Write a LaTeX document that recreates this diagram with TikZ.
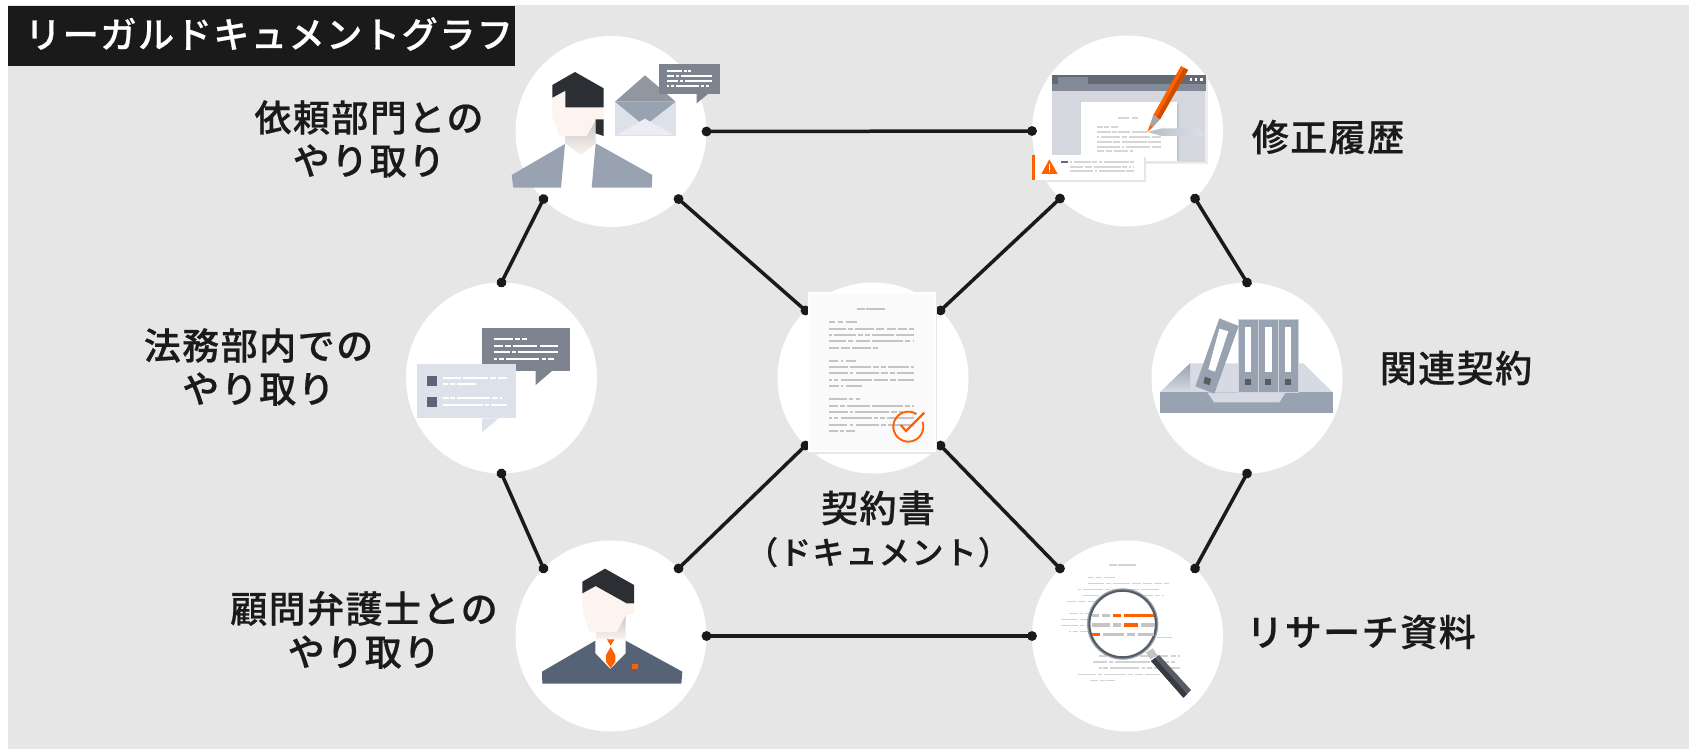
\documentclass[tikz,border=0pt]{standalone}
\usepackage{fontspec}
\setmainfont{Noto Sans CJK JP}
\newfontfamily\mediumfont[LetterSpace=4, FakeBold=0.5]{Noto Sans CJK JP Medium}
\usetikzlibrary{arrows.meta}

\definecolor{bggray}{HTML}{E6E6E6}
\definecolor{inkblack}{HTML}{1A1A1A}
\definecolor{slate}{HTML}{98A2B1}
\definecolor{slatedark}{HTML}{7D8490}
\definecolor{slatelight}{HTML}{DDE1E9}
\definecolor{charcoal}{HTML}{2B2E33}
\definecolor{skin}{HTML}{FDF3EF}
\definecolor{accent}{HTML}{FF6000}
\definecolor{rowgray}{HTML}{C4C4C4}
\definecolor{suitblue}{HTML}{566376}
\definecolor{boxblue}{HTML}{5F6378}

\newcommand{\textrows}[2][]{%
	\foreach \y/\segs in {#2} {
		\foreach \a/\b in \segs {
			\draw[#1] (\a,\y) -- (\b,\y);
		}
	}
}

\tikzset{
	hub/.style={circle, fill=white, minimum size=95.5pt, inner sep=0, outer sep=0},
	link/.style={inkblack, line width=1.75pt, {Circle[length=4.8pt]}-{Circle[length=4.8pt]}, shorten <=-2.4pt, shorten >=-2.4pt},
	caption/.style={font=\mediumfont\fontsize{18.5}{21.6}\selectfont, text=inkblack, align=center, inner sep=0},
	whiterow/.style={white, line width=1.05pt},
	docrow/.style={rowgray, line width=0.9pt},
	faintrow/.style={rowgray!75, line width=0.8pt},
	lensrow/.style={rowgray, line width=1.7pt},
	hotrow/.style={accent, line width=1.7pt}
}

\begin{document}
\begin{tikzpicture}[x=0.5pt, y=-0.5pt]
	\useasboundingbox (0,0) rectangle (1689,749);
	\fill[bggray] (8,5) rectangle (1689,749);

	\fill[inkblack] (8,6) rectangle (515,66);
	\node[font=\mediumfont\fontsize{18.1}{22}\selectfont, text=white, inner sep=0] (title) at (269,34) {リーガルドキュメントグラフ};

	\node[hub] (request) at (611,131.5) {};
	\node[hub] (history) at (1127.5,131) {};
	\node[hub] (internal) at (501.5,378) {};
	\node[hub] (contract) at (873,378) {};
	\node[hub] (related) at (1247,378) {};
	\node[hub] (counsel) at (611,636) {};
	\node[hub] (research) at (1127.5,636) {};

	\draw[link] (request.0) -- (history.180);
	\draw[link] (request.225) -- (internal.90);
	\draw[link] (request.315) -- (contract.135);
	\draw[link] (history.225) -- (contract.45);
	\draw[link] (history.315) -- (related.90);
	\draw[link] (related.270) -- (research.45);
	\draw[link] (internal.270) -- (counsel.135);
	\draw[link] (contract.225) -- (counsel.45);
	\draw[link] (contract.315) -- (research.135);
	\draw[link] (counsel.0) -- (research.180);

	\node[caption] (requestlabel) at (369,139) {依頼部門との\\やり取り};
	\node[caption] (historylabel) at (1328,137) {修正履歴};
	\node[caption] (internallabel) at (258.5,367) {法務部内での\\やり取り};
	\node[caption] (relatedlabel) at (1456,368) {関連契約};
	\node[caption] (contractlabel) at (878,529) {契約書\\[-0.5pt]{\fontsize{15.9}{20}\selectfont （ドキュメント）}};
	\node[caption] (counsellabel) at (364,630) {顧問弁護士との\\やり取り};
	\node[caption] (researchlabel) at (1361,632) {リサーチ資料};

	\begin{scope}[shift={(480,0)}, scale=1/3]
		\fill[slate] (255,432) -- (243,563) -- (100,563) -- (95,525) -- cycle;
		\fill[slate] (347,430) -- (335,563) -- (515,563) -- (517,525) -- cycle;
		\shade[top color=gray!45, bottom color=skin] (256,408) -- (320,408) -- (347,360) -- (347,430) -- (302,465) -- (256,430) -- cycle;
		\fill[skin] (217,293) -- (256,272) -- (256,322) -- (371,322) -- (371,358) -- (347,358) -- (320,408) -- (238,408) -- (217,350) -- cycle;
		\fill[charcoal] (217,255) -- (285,216) -- (371,265) -- (371,322) -- (256,322) -- (256,272) -- (217,293) -- cycle;
		\fill[charcoal] (347,358) -- (371,358) -- (371,408) -- (347,400) -- cycle;
		\fill[slatelight] (405,305) rectangle (587,407);
		\fill[slatedark!85] (405,305) -- (495,226) -- (587,305) -- cycle;
		\fill[slate] (405,305) -- (587,305) -- (510,365) -- (495,355) -- (478,365) -- cycle;
		\fill[slatelight!60] (410,405) -- (495,357) -- (583,405) -- cycle;
		\fill[slatedark] (538,192) rectangle (720,281);
		\fill[slatedark] (650,281) -- (650,310) -- (685,281) -- cycle;
		\textrows[whiterow]{214/{562/605,612/620,625/632}, 228/{562/582,588/598,604/696}, 242/{562/594,600/610,616/696}, 257/{562/568,574/582,588/658,664/672,678/687}}
	\end{scope}

	\begin{scope}[shift={(1010,20)}, scale=1/3]
		\fill[bggray!70] (126,165) rectangle (593,431);
		\fill[slatelight!90!gray] (126,210) rectangle (585,425);
		\fill[slatedark!80!black] (126,165) rectangle (587,192);
		\fill[slate!85!black] (126,192) rectangle (587,212);
		\fill[slate!85!black] (143,172) rectangle (233,192);
		\foreach \x in {543,558,574} {
			\fill[white] (\x-4,175) rectangle (\x+4,183);
		}
		\fill[slate!60] (501,252) rectangle (508,430);
		\fill[bggray] (213,423) rectangle (508,430);
		\fill[white] (213,245) rectangle (501,423);
		\textrows[docrow, rowgray!70]{293/{325/358,365/385}, 321/{261/278,282/298,302/323}, 336/{261/303,307/320,325/360,366/410}, 350/{261/267,273/330,335/352,358/420,425/453}, 365/{261/305,310/330,335/410,415/453}, 380/{261/330,335/343,349/420,425/453}, 394/{261/282,287/305,311/355,361/370}}
		\shade[left color=slate!70, right color=slatelight] (413,336) -- (455,325) -- (565,325) -- (585,348) -- (455,348) -- cycle;
		\fill[accent] (430,285) -- (513,138) -- (534,150) -- (450,298) -- cycle;
		\fill[accent!80!black] (522,144) -- (534,150) -- (450,298) -- (440,292) -- cycle;
		\fill[gray!70] (430,285) -- (450,298) -- (430,320) -- (420,314) -- cycle;
		\fill[accent] (412,336) -- (420,314) -- (430,320) -- cycle;
		\fill[bggray] (82,411) rectangle (407,485);
		\fill[white] (76,405) rectangle (401,479);
		\fill[accent] (66,404) rectangle (76,479);
		\fill[accent] (118,418) -- (143,462) -- (94,462) -- cycle;
		\fill[white] (116,432) rectangle (120,449);
		\fill[white] (116,452) rectangle (120,457);
		\fill[slatedark!80!black] (154,424) rectangle (174,428);
		\textrows[docrow, rowgray!70]{426/{181/187,192/242,247/262,267/276,281/356,361/373}, 440/{181/218,224/246,252/332,337/352,358/364,368/373}, 454/{181/250,256/262,268/344,349/373}}
	\end{scope}

	\begin{scope}[shift={(400,270)}, scale=1/3]
		\fill[slatedark] (246,174) rectangle (509,302);
		\fill[slatedark] (407,302) -- (407,345) -- (457,302) -- cycle;
		\textrows[whiterow]{206/{281/340,345/360,366/381}, 227/{281/310,316/332,338/412,419/473}, 247/{281/329,335/348,354/473}, 268/{281/291,297/312,318/418,425/438,444/461}}
		\fill[slatelight] (52,281) rectangle (348,445);
		\fill[slatelight] (246,445) -- (246,487) -- (296,445) -- cycle;
		\foreach \y in {319,381} {
			\fill[boxblue] (82,\y) rectangle (111,\y+29);
		}
		\textrows[whiterow]{323/{128/184,189/263,269/287,293/320}, 343/{128/144,149/165,170/228}, 385/{128/146,151/165,170/271,277/294,299/307}, 405/{128/248,254/268,273/320}}
	\end{scope}

	\begin{scope}[shift={(770,270)}, scale=1/3]
		\fill[bggray] (120,72) rectangle (502,552);
		\fill[white] (115,67) rectangle (497,547);
		\fill[black!2] (121,73) rectangle (491,541);
		\textrows[docrow]{118/{262/285,289/344}, 157/{178/196,203/220,227/262}, 176/{178/228,234/248,255/311,317/343,350/378,385/410,417/433}, 195/{178/186,193/259,265/278,285/300,307/373,379/433}, 214/{178/228,235/250,257/299,305/399,406/421,428/433}, 233/{178/206,213/240,246/302,309/323}, 272/{178/205,212/220,227/257}, 291/{178/233,239/303,309/326,332/348,354/418,424/433}, 310/{178/233,239/250,257/326,333/355,361/375,382/433}, 329/{178/186,192/205,212/305,311/355,361/377,383/433}, 349/{178/207,213/220,227/277}, 387/{178/232,238/250,257/271}, 407/{178/204,210/224,230/300,305/399,406/419,425/433}, 426/{178/233,239/249,255/357,363/380,386/400}, 445/{178/186,192/205,212/306,312/325,331/345,350/433}, 464/{178/232,239/250,257/326,333/347,353/433}, 484/{178/204,210/222,228/255}}
		\draw[accent, line width=0.95pt] (457.5,455.3) arc[start angle=-19, end angle=303, radius=45];
		\draw[accent, line width=1.1pt] (392,465) -- (408,483) -- (463,428);
	\end{scope}

	\begin{scope}[shift={(1140,270)}, scale=1/3]
		\fill[slatelight!90!slate] (60,367) -- (150,280) -- (490,280) -- (578,367) -- cycle;
		\shade[top color=slate, bottom color=slatelight!90!slate] (60,367) -- (150,280) -- (150,367) -- cycle;
		\fill[slate] (60,367) rectangle (578,429);
		\fill[slatelight!90!slate] (202,367) -- (222,397) -- (418,397) -- (437,367) -- cycle;
		\foreach \x in {295,356,415} {
			\fill[slate, draw=slatelight!80!slate, line width=0.4pt] (\x,148) rectangle (\x+60,367);
			\fill[white] (\x+20,172) rectangle (\x+39,305);
			\fill[slatedark!70!black] (\x+20,327) rectangle (\x+38,346);
		}
		\fill[slate] (238,145) -- (296,168) -- (223,371) -- (166,349) -- cycle;
		\fill[white] (238,176) -- (265,184) -- (225,305) -- (205,298) -- cycle;
		\fill[slatedark!70!black] (195,320) -- (214,327) -- (208,346) -- (190,339) -- cycle;
	\end{scope}

	\begin{scope}[shift={(510,530)}, scale=1/3]
		\shade[top color=gray!45, bottom color=skin] (258,306) -- (320,306) -- (347,256) -- (347,328) -- (258,328) -- cycle;
		\fill[skin] (217,190) -- (257,168) -- (350,220) -- (372,222) -- (372,252) -- (347,254) -- (320,306) -- (238,306) -- (220,250) -- cycle;
		\fill[charcoal] (217,155) -- (285,116) -- (372,165) -- (372,220) -- (350,220) -- (257,168) -- (217,190) -- cycle;
		\fill[suitblue] (256,332) -- (256,370) -- (301,417) -- (347,370) -- (347,332) -- (517,425) -- (514,461) -- (97,461) -- (96,425) -- cycle;
		\fill[accent] (291,328) -- (313,328) -- (302,347) -- cycle;
		\fill[accent] (302,351) -- (316,375) -- (316,395) -- (302,415) -- (288,395) -- (288,375) -- cycle;
		\fill[accent] (367,403) rectangle (383,418);
	\end{scope}

	\begin{scope}[shift={(1020,530)}, scale=1/3]
		\textrows[faintrow]{105/{268/290,295/347}, 142/{205/222,229/245,252/285}, 160/{205/252,258/272,278/331,337/362,368/396,403/425,431/447}, 178/{175/182,190/248,255/270,277/292,299/357,364/418}, 197/{190/238,355/400,405/420,425/432}, 214/{140/167,173/199,205/260}, 251/{147/174,181/189,195/225}, 269/{123/175,181/203}, 287/{123/175,181/192,198/205}, 305/{147/154,160/173,180/210}, 323/{411/456}, 378/{237/262,360/380,380/445,452/467,473/480}, 396/{220/260,267/279,285/390,395/430,435/447,452/465}, 414/{237/245,250/265,270/358,365/375,381/397,403/480}, 433/{175/229,235/246,252/318,324/339,344/370,376/420}, 451/{211/235,240/255,259/284}}
		\fill[rowgray] (378,368) -- (398,355) -- (412,375) -- (392,388) -- cycle;
		\fill[slatedark!70!black] (393,393) -- (417,375) -- (513,480) -- (490,503) -- cycle;
		\fill[slatedark!45!black] (393,393) -- (405,384) -- (501,492) -- (490,503) -- cycle;
		\fill[white] (308,282) circle[radius=100];
		\draw[slate, line width=1pt] (308,282) circle[radius=104];
		\draw[slatedark!70!black, line width=1.1pt] (308,282) circle[radius=100];
		\textrows[lensrow]{257/{215/238,246/271}, 285/{215/270,279/303,362/405}, 313/{250/313,322/345,354/402}}
		\textrows[hotrow]{257/{279/303,312/402}, 285/{312/353}, 313/{215/240}}
	\end{scope}
\end{tikzpicture}
\end{document}
